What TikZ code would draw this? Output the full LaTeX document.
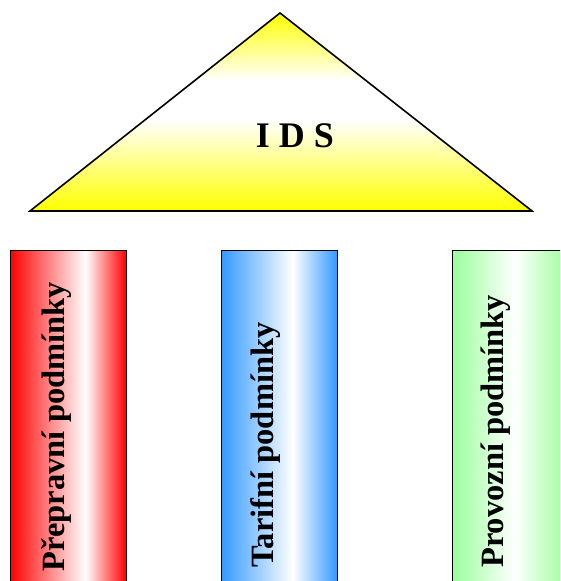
\documentclass[tikz,border=0pt]{standalone}
\usepackage{fontspec}
\setmainfont{Liberation Serif}
\definecolor{colred}{RGB}{255,0,0}
\definecolor{colblue}{RGB}{51,153,255}
\definecolor{colgreen}{RGB}{153,255,153}
\definecolor{colyellow}{RGB}{255,255,0}
\pgfdeclarehorizontalshading{redcol}{100bp}{color(0bp)=(colred); color(25bp)=(colred); color(57.5bp)=(white); color(75bp)=(colred); color(100bp)=(colred)}
\pgfdeclarehorizontalshading{bluecol}{100bp}{color(0bp)=(colblue); color(25bp)=(colblue); color(56bp)=(white); color(75bp)=(colblue); color(100bp)=(colblue)}
\pgfdeclarehorizontalshading{greencol}{100bp}{color(0bp)=(colgreen); color(25bp)=(colgreen); color(52bp)=(white); color(75bp)=(colgreen); color(100bp)=(colgreen)}
\pgfdeclareverticalshading{roofshade}{100bp}{color(0bp)=(colyellow); color(25bp)=(colyellow); color(48bp)=(white); color(58bp)=(white); color(75bp)=(colyellow); color(100bp)=(colyellow)}
\tikzset{
  pillar/.style={draw=black, line width=1pt},
  pillartext/.style={rotate=90, anchor=base west, inner sep=0pt, font=\fontsize{32.5}{36}\selectfont\bfseries},
  roof/.style={draw=black, line width=1.6pt, line join=miter, shading=roofshade},
}
\begin{document}
\begin{tikzpicture}[x=1pt,y=1pt]
\useasboundingbox (0,0) rectangle (560,-581);
\clip (0,0) rectangle (560,-581);
% roof
\coordinate (apex) at (280,-13);
\coordinate (bl) at (30,-211);
\coordinate (br) at (532,-211);
\path[roof] (bl) -- (apex) -- (br) -- cycle;
\node[font=\fontsize{36}{40}\selectfont\bfseries, inner sep=0pt] (ids) at (295,-136) {I D S};
% pillars
\path[pillar, shading=redcol] (10,-250) rectangle (126,-600);
\path[pillar, shading=bluecol] (221,-250) rectangle (337,-600);
\path[pillar, shading=greencol] (452,-250) rectangle (568,-600);
\node[pillartext] (p1) at (64,-572) {Přepravní podmínky};
\node[pillartext] (p2) at (273,-568) {Tarifní podmínky};
\node[pillartext] (p3) at (503,-568) {Provozní podmínky};
\end{tikzpicture}
\end{document}
